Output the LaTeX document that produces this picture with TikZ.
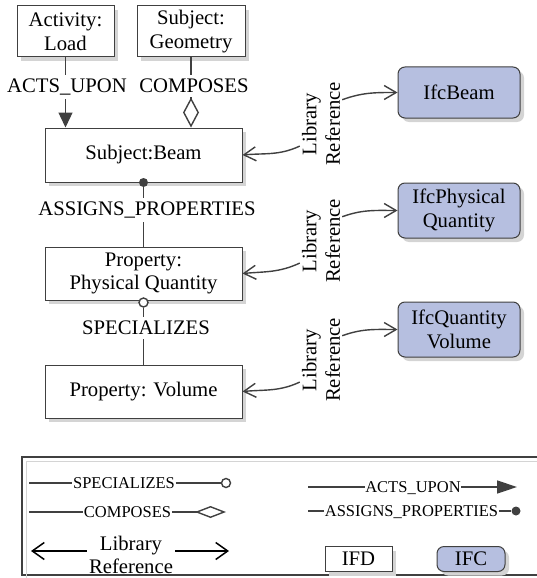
\documentclass[tikz,border=0pt]{standalone}
\usepackage{fontspec}
\setmainfont{Liberation Serif}
\usetikzlibrary{arrows.meta,calc}
\definecolor{edgegray}{RGB}{64,64,64}
\definecolor{shadegray}{RGB}{212,212,212}
\definecolor{ifcfill}{RGB}{182,191,224}

\begin{document}
\begin{tikzpicture}[x=1pt,y=1pt,
  every node/.style={font=\fontsize{20.7}{23.5}\selectfont, text=black},
  ifd/.style={draw=edgegray, line width=1pt, fill=white, align=center, inner sep=0pt,
    preaction={draw=none, fill=shadegray, transform canvas={xshift=4pt, yshift=-4pt}}},
  ifc/.style={ifd, fill=ifcfill, rounded corners=7pt},
  lbl/.style={inner sep=4pt},
  lref/.style={align=center, inner sep=2pt, rotate=90},
  conn/.style={draw=edgegray, line width=1.4pt},
  ref/.style={conn, -{Straight Barb[length=12pt,width=14pt,line width=1.4pt]}},
  legarrow/.style={draw=black, line width=1.5pt, -{Straight Barb[length=12pt,width=17pt,line width=1.5pt]}},
  legend/.style={font=\fontsize{16.5}{19}\selectfont, inner sep=0.5pt, text height=11pt, text depth=0pt},
  ring/.style={circle, draw=edgegray, line width=1.4pt, fill=white, minimum size=9pt, inner sep=0pt},
  dot/.style={circle, fill=edgegray, minimum size=9pt, inner sep=0pt}]
\useasboundingbox (0,0) rectangle (536,-578);

% IFD boxes
\node[ifd, minimum width=97pt, minimum height=51pt] (act) at (65.5,-31.5) {Activity:\\Load};
\node[ifd, minimum width=108pt, minimum height=51pt] (geo) at (191,-31.5) {Subject:\\Geometry};
\node[ifd, minimum width=197pt, minimum height=54pt] (beam) at (143.5,-155) {Subject:Beam};
\node[ifd, minimum width=197pt, minimum height=53pt] (pq) at (143.5,-273.5) {Property:\\Physical Quantity};
\node[ifd, minimum width=197pt, minimum height=53pt] (vol) at (143.5,-391.5) {Property: Volume};

% IFC boxes
\node[ifc, minimum width=122pt, minimum height=51pt] (ifcb) at (459,-92.5) {IfcBeam};
\node[ifc, minimum width=122pt, minimum height=55pt] (ifcp) at (459,-210.5) {IfcPhysical\\Quantity};
\node[ifc, minimum width=122pt, minimum height=55pt] (ifcq) at (459,-329.5) {IfcQuantity\\Volume};

% relationship labels
\node[lbl] (acts) at (67,-87) {ACTS\_UPON};
\node[lbl] (comp) at (194,-86) {COMPOSES};
\node[lbl] (asg) at (147,-210) {ASSIGNS\_PROPERTIES};
\node[lbl] (spec) at (146,-328) {SPECIALIZES};

% ACTS_UPON
\draw[conn] (act.south) -- (act.south |- acts.north);
\draw[conn, -{Triangle[length=15pt,width=14pt]}] (act.south |- acts.south) -- (act.south |- beam.north);

% COMPOSES
\draw[conn] (geo.south) -- (geo.south |- comp.north);
\draw[conn, -{Diamond[open,length=30pt,width=16pt]}] (geo.south |- comp.south) -- (geo.south |- beam.north);

% ASSIGNS_PROPERTIES
\draw[conn] (beam.south) -- (beam.south |- asg.north);
\draw[conn] (beam.south |- asg.south) -- (pq.north);
\node[dot] (asgdot) at (beam.south) {};

% SPECIALIZES
\node[ring] (specring) at ($(pq.south)+(0,-2)$) {};
\draw[conn] (specring) -- (pq.south |- spec.north);
\draw[conn] (pq.south |- spec.south) -- (vol.north);

% library references
\node[lref] (lr1) at (321,-124) {Library\\Reference};
\node[lref] (lr2) at (321,-241) {Library\\Reference};
\node[lref] (lr3) at (321,-360) {Library\\Reference};
\draw[ref] ($(lr1.north)!0.5!(lr1.north west)$) to[out=205,in=5] (beam.east);
\draw[ref] ($(lr1.south)!0.55!(lr1.south east)$) to[out=20,in=180] (ifcb.west);
\draw[ref] ($(lr2.north)!0.5!(lr2.north west)$) to[out=205,in=5] (pq.east);
\draw[ref] ($(lr2.south)!0.55!(lr2.south east)$) to[out=20,in=180] (ifcp.west);
\draw[ref] ($(lr3.north)!0.5!(lr3.north west)$) to[out=205,in=5] (vol.east);
\draw[ref] ($(lr3.south)!0.55!(lr3.south east)$) to[out=20,in=180] (ifcq.west);

% legend frame
\draw[edgegray, line width=1.2pt] (22,-457) rectangle (545,-575);
\draw[shadegray, line width=1pt] (26,-580) -- (26,-461) -- (545,-461);

% legend: SPECIALIZES
\coordinate (s0) at (29,-483);
\node[legend] (sL) at (124,-483) {SPECIALIZES};
\node[ring] (sO) at (226,-483) {};
\draw[conn] (s0) -- (sL.west |- s0);
\draw[conn] (sL.east |- s0) -- (sO);

% legend: COMPOSES
\coordinate (c0) at (29,-512);
\coordinate (c1) at (226,-512);
\node[legend] (cL) at (127.5,-512) {COMPOSES};
\draw[conn] (c0) -- (cL.west |- c0);
\draw[conn, -{Diamond[open,length=31pt,width=12pt]}] (cL.east |- c0) -- (c1);

% legend: library reference
\coordinate (r0) at (31,-551);
\coordinate (r1) at (229,-551);
\node[align=center, inner sep=2pt] (rL) at (131,-555) {Library\\Reference};
\draw[legarrow] (rL.west |- r0) -- (r0);
\draw[legarrow] (rL.east |- r1) -- (r1);

% legend: ACTS_UPON
\coordinate (a0) at (308,-487);
\coordinate (a1) at (517,-487);
\node[legend] (aL) at (413,-487) {ACTS\_UPON};
\draw[conn] (a0) -- (aL.west |- a0);
\draw[conn, -{Triangle[length=20pt,width=13pt]}] (aL.east |- a0) -- (a1);

% legend: ASSIGNS_PROPERTIES
\coordinate (g0) at (308,-511);
\node[legend] (gL) at (411.5,-511) {ASSIGNS\_PROPERTIES};
\node[dot] (gD) at (516,-511) {};
\draw[conn] (g0) -- (gL.west |- g0);
\draw[conn] (gL.east |- g0) -- (gD);

% legend: box kinds
\node[ifd, minimum width=67pt, minimum height=25pt] (kIFD) at (358.5,-559) {IFD};
\node[ifc, minimum width=68pt, minimum height=25pt] (kIFC) at (471,-559) {IFC};
\end{tikzpicture}
\end{document}
